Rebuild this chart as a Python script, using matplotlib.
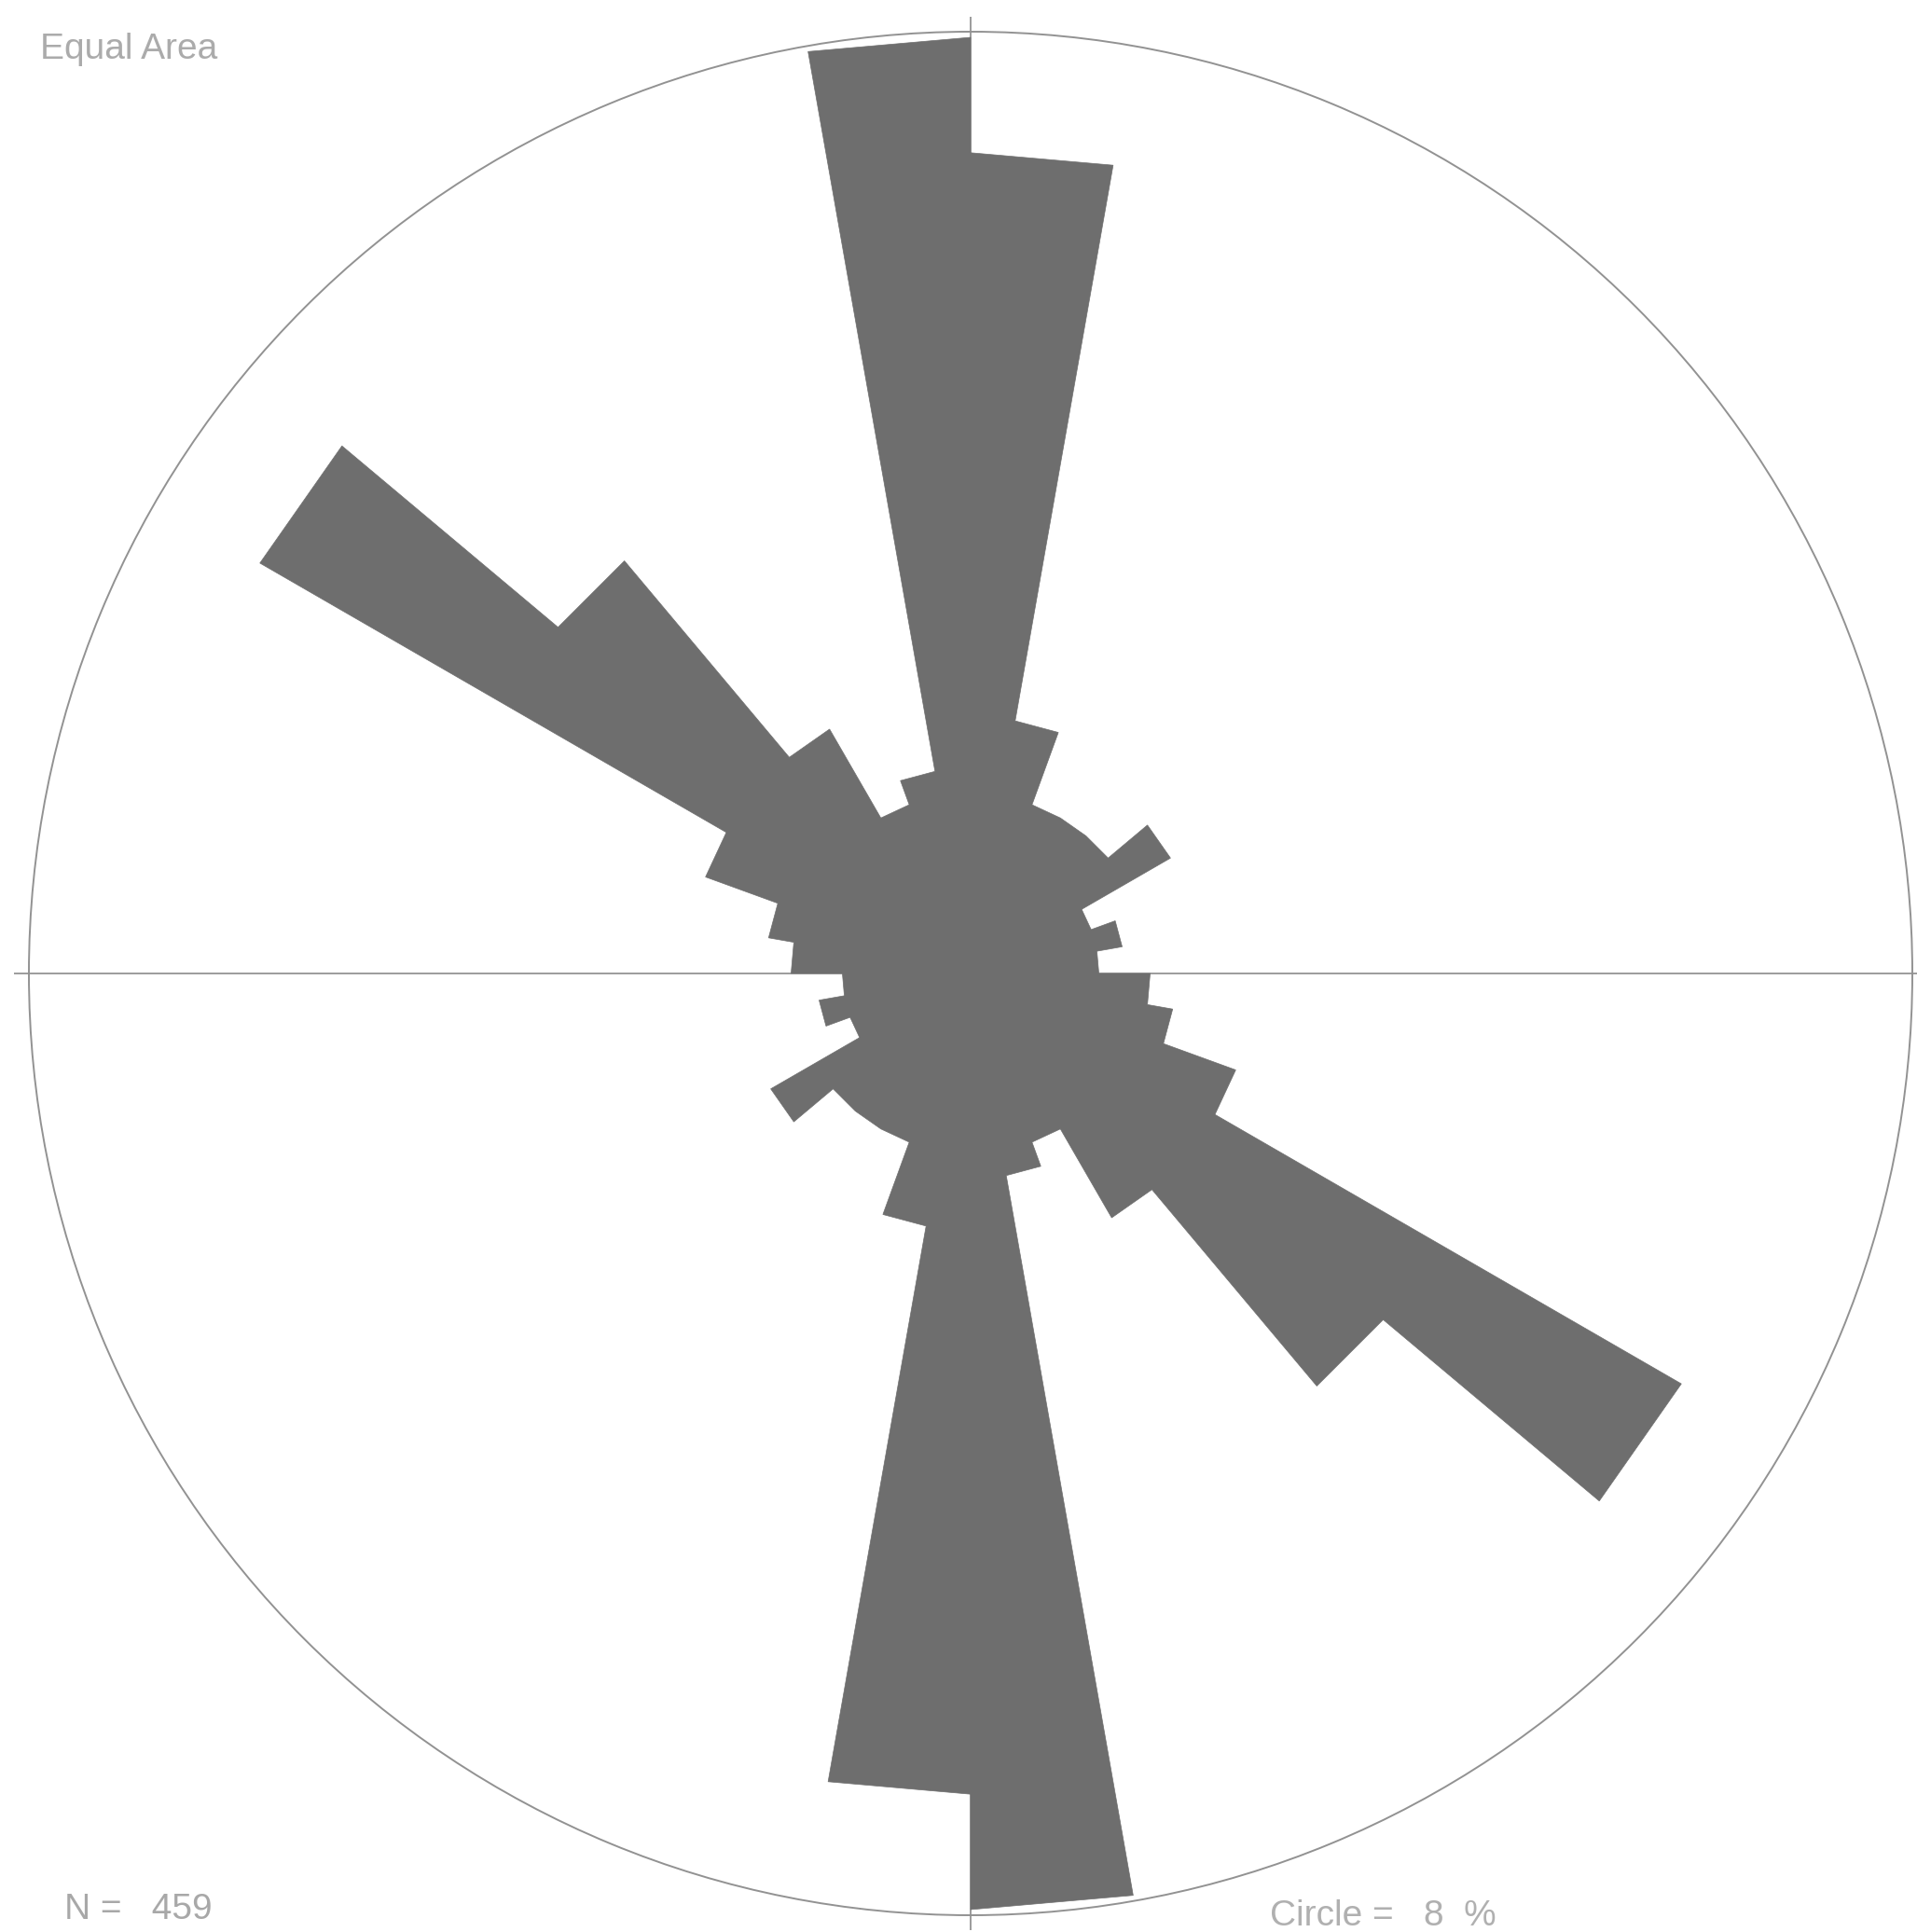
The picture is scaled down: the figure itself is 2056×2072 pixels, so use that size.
import numpy as np
import matplotlib
matplotlib.use("Agg")
import matplotlib.pyplot as plt

# Axial orientation measurements, counted in 10-degree classes from 0 to 180
bin_start_deg = list(range(0, 180, 10))
counts = [64, 20, 14, 14, 14, 18, 10, 12, 10, 14, 16, 22, 64, 42, 22, 14, 16, 73]
bin_width_deg = 10
circle_pct = 8          # outer circle value in percent
n_total = sum(counts)

# Axial data: every class is drawn in both opposite directions,
# each petal giving its share of all 2N directions
starts_deg = np.concatenate([bin_start_deg, np.array(bin_start_deg) + 180])
pct = np.concatenate([counts, counts]) / (2 * n_total) * 100

W, H = 2056, 2072
fig = plt.figure(figsize=(W / 100, H / 100), dpi=100, facecolor="white")

cx, cy, R = 1041, 1044, 1010
ax = fig.add_axes([(cx - R) / W, (H - cy - R) / H, 2 * R / W, 2 * R / H],
                  projection="polar")
ax.set_theta_zero_location("N")
ax.set_theta_direction(-1)
ax.set_ylim(0, circle_pct)

# Rose outline: each class is a petal with a straight outer edge,
# neighbouring petals joined by radial steps
theta_pts, r_pts = [], []
for s, p in zip(starts_deg, pct):
    theta_pts += [np.deg2rad(s), np.deg2rad(s + bin_width_deg)]
    r_pts += [p, p]
ax.fill(theta_pts, r_pts, facecolor="#6e6e6e", edgecolor="#6e6e6e",
        linewidth=0.5, zorder=3)

ax.grid(False)
ax.set_xticks([])
ax.set_yticks([])
ax.spines["polar"].set_color("#929292")
ax.spines["polar"].set_linewidth(1.4)

# Cross through the centre, slightly overshooting the circle
ext = circle_pct * 1.016
for th in (0, np.pi / 2, np.pi, 3 * np.pi / 2):
    ax.plot([th, th], [0, ext], color="#9c9c9c", lw=1.4, zorder=1,
            clip_on=False, solid_capstyle="butt")

font = dict(family=["Liberation Sans", "DejaVu Sans"], fontsize=28,
            va="center", ha="left")
fig.text(43 / W, 1 - 53 / H, "Equal Area", color="#ababab", **font)
fig.text(69 / W, 1 - 2048 / H, f"N =   {n_total}", color="#a8a8a8", **font)
fig.text(1362 / W, 1 - 2055 / H, f"Circle =   {circle_pct}  %",
         color="#b0b0b0", **font)

fig.savefig("out.png", dpi=100, facecolor="white")
